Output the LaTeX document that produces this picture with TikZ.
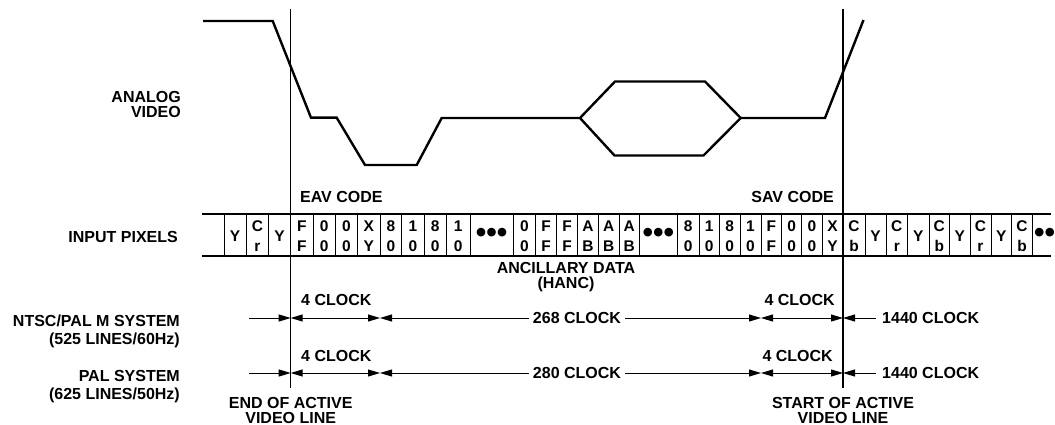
\documentclass[tikz,border=0pt]{standalone}
\usepackage{fontspec}
\setmainfont{Liberation Sans}
\usetikzlibrary{arrows.meta}
\begin{document}
\begin{tikzpicture}[x=1pt,y=-1pt,
  lbl/.style={font=\fontsize{16}{15}\selectfont\bfseries, inner sep=0pt, align=center},
  lblr/.style={lbl, align=right, anchor=east},
  wave/.style={line width=2.4pt, line join=miter},
  vline/.style={line width=1.1pt},
  band/.style={line width=2.4pt},
  cellb/.style={line width=1pt},
  cc/.style={font=\fontsize{15.5}{15.5}\selectfont\bfseries, inner sep=0pt, anchor=base},
  dots/.style={font=\fontsize{30}{30}\selectfont\bfseries, inner sep=0pt},
  tip/.tip={Triangle[length=12pt,width=7pt]},
  dim/.style={line width=1pt, tip-tip},
  dimr/.style={line width=1pt, -tip},
]
\useasboundingbox (0,0) rectangle (1055,425);

% waveform
\draw[wave] (203,21) -- (272.7,21) -- (311,117.7) -- (336.7,117.7) -- (365,165) -- (416.7,165)
  -- (441.7,118) -- (580,118) -- (615,81.5) -- (705,81.5) -- (740.7,118) -- (825,118) -- (863.5,20);
\draw[wave] (580,118) -- (614.5,155.5) -- (703.5,155.5) -- (740.7,118);

% reference lines
\coordinate (eavtop) at (290.7,9);
\coordinate (eavbot) at (290.7,388);
\coordinate (savtop) at (843,9);
\coordinate (savbot) at (843,388);
\draw[vline] (eavtop) -- (eavbot);
\draw[vline] (savtop) -- (savbot);

% left labels
\node[lblr] (analog) at (181,104.5) {ANALOG\\VIDEO};
\node[lblr] (inpix) at (178,237) {INPUT PIXELS};
\node[lblr, font=\fontsize{16}{18}\selectfont\bfseries] (ntsc) at (180,331) {NTSC/PAL M SYSTEM\\(525 LINES/60Hz)};
\node[lblr, font=\fontsize{16}{18}\selectfont\bfseries] (pal) at (180,387) {PAL SYSTEM\\(625 LINES/50Hz)};

\node[lbl, anchor=west] (eav) at (300,197) {EAV CODE};
\node[lbl, anchor=east] (sav) at (834,197) {SAV CODE};
\node[lbl] (anc) at (566,277.5) {ANCILLARY DATA\\(HANC)};
\node[lbl] (endav) at (290.7,410.5) {END OF ACTIVE\\VIDEO LINE};
\node[lbl] (startav) at (843,410.5) {START OF ACTIVE\\VIDEO LINE};

% pixel band
\coordinate (bandtl) at (202,214);
\coordinate (bandtr) at (1051,214);
\coordinate (bandbl) at (202,256);
\coordinate (bandbr) at (1051,256);
\draw[band] (bandtl) -- (bandtr);
\draw[band] (bandbl) -- (bandbr);
\foreach \x [count=\i] in {224,246.3,268.5,313.2,335.2,357.7,380,401.7,424,446.5,470,513.5,535.5,556.6,577.5,598.3,619,639.3,677.3,699,719.5,740,761,781.8,801.8,822,865,886,907.6,929,949.5,970,991,1011.7,1032.3}
  \draw[cellb] (\x,214) -- (\x,256);

% single letter cells
\foreach \a/\b [count=\i] in {224/246.3,268.5/290.7,865/886,907.6/929,949.5/970,991/1011.7}
  \node[cc] (s\i) at ({(\a+\b)/2},241.5) {Y};

% two-row cells
\foreach \a/\b/\t/\u [count=\i] in {
  246.3/268.5/C/r, 290.7/313.2/F/F, 313.2/335.2/0/0, 335.2/357.7/0/0, 357.7/380/X/Y,
  380/401.7/8/0, 401.7/424/1/0, 424/446.5/8/0, 446.5/470/1/0,
  513.5/535.5/0/0, 535.5/556.6/F/F, 556.6/577.5/F/F, 577.5/598.3/A/B, 598.3/619/A/B, 619/639.3/A/B,
  677.3/699/8/0, 699/719.5/1/0, 719.5/740/8/0, 740/761/1/0,
  761/781.8/F/F, 781.8/801.8/0/0, 801.8/822/0/0, 822/843/X/Y,
  843/865/C/b, 886/907.6/C/r, 929/949.5/C/b, 970/991/C/r, 1011.7/1032.3/C/b}
{
  \node[cc] (t\i) at ({(\a+\b)/2},231.7) {\t};
  \node[cc] (u\i) at ({(\a+\b)/2},251.7) {\u};
}

% ellipses
\node[dots] (el1) at (491.7,235) {•••};
\node[dots] (el2) at (658.3,235) {•••};
\node[dots, anchor=west] (el3) at (1034,235) {••};

% timing rows
\foreach \r/\y/\n in {a/318/268, b/373/280} {
  \coordinate (\r0) at (249,\y);
  \coordinate (\r1) at (290.7,\y);
  \coordinate (\r2) at (380,\y);
  \coordinate (\r3) at (761,\y);
  \coordinate (\r4) at (843,\y);
  \coordinate (\r5) at (876,\y);
  \draw[dimr] (\r0) -- (\r1);
  \draw[dim] (\r1) -- (\r2);
  \draw[dim] (\r2) -- (\r3);
  \node[lbl, fill=white, inner xsep=4pt] (\r mid) at (577,\y) {\n\ CLOCK};
  \draw[dim] (\r3) -- (\r4);
  \draw[dimr] (\r5) -- (\r4);
  \node[lbl, anchor=west] (\r long) at (882,\y) {1440 CLOCK};
}
\node[lbl, anchor=west] (c4a) at (301,300) {4 CLOCK};
\node[lbl, anchor=east] (c4b) at (835,300) {4 CLOCK};
\node[lbl, anchor=west] (c4c) at (301,356) {4 CLOCK};
\node[lbl, anchor=east] (c4d) at (833,356) {4 CLOCK};
\end{tikzpicture}
\end{document}
